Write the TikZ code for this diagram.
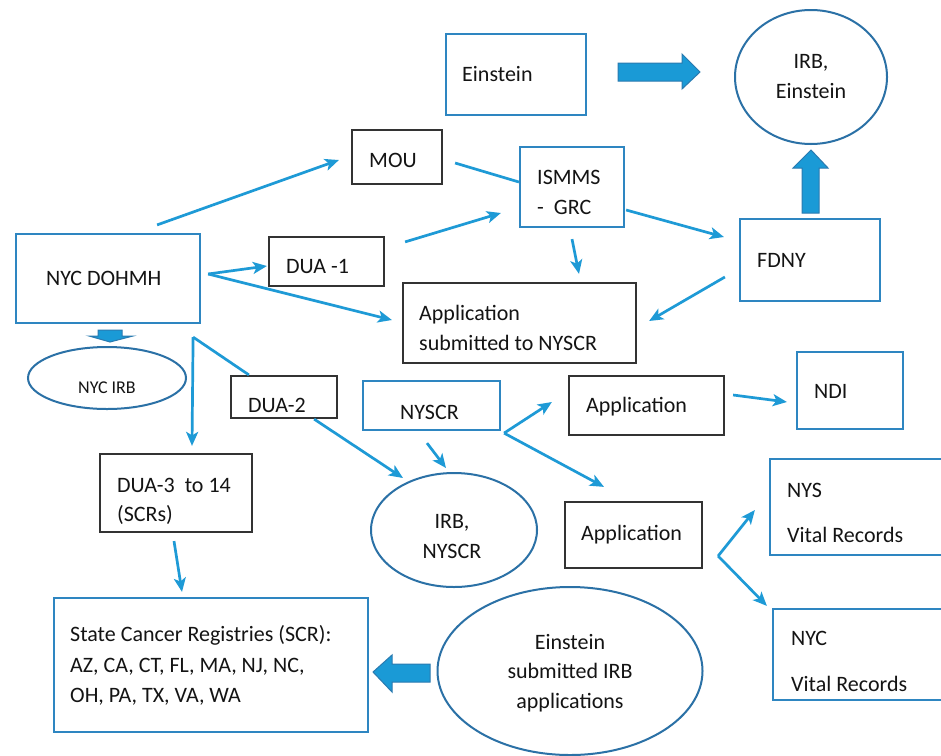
\documentclass[tikz,border=0pt]{standalone}
\usepackage{fontspec}
\setmainfont{Carlito}
\usetikzlibrary{arrows.meta,calc,shapes.geometric}
\definecolor{connblue}{HTML}{1E9AD6}
\definecolor{boxblue}{HTML}{2E86C1}
\definecolor{ovalblue}{HTML}{2B71A6}
\definecolor{boxblack}{HTML}{333333}
\definecolor{txtblack}{HTML}{141414}
\definecolor{blockfill}{HTML}{1A9AD6}
\definecolor{blockedge}{HTML}{2A7AB0}
\begin{document}
\begin{tikzpicture}[x=1pt,y=-1pt,
  bluebox/.style={draw=boxblue,line width=2.2pt,rectangle,inner sep=0pt},
  blackbox/.style={draw=boxblack,line width=2.2pt,rectangle,inner sep=0pt},
  oval/.style={draw=ovalblue,ellipse,line width=2pt,inner sep=0pt},
  txt/.style={anchor=base west,inner sep=0pt,font=\fontsize{22}{26}\selectfont,text=txtblack},
  ctxt/.style={anchor=base,inner sep=0pt,font=\fontsize{22}{26}\selectfont,text=txtblack},
  arr/.style={draw=connblue,line width=2.7pt,-{Stealth[length=14pt,width=12pt,inset=3.5pt]}},
  plainline/.style={draw=connblue,line width=2.7pt},
  blockarrow/.style={fill=blockfill,draw=blockedge,line width=1pt,line join=miter}]
\useasboundingbox (0,0) rectangle (941,755);
\fill[white] (0,0) rectangle (941,755);
\clip (0,0) rectangle (941,755);

% ---- boxes ----
\node[bluebox,minimum width=140pt,minimum height=81pt] (einstein) at (516,74.5) {};
\node[oval,minimum width=152pt,minimum height=134pt] (irbE) at (811,77) {};
\node[blackbox,minimum width=90pt,minimum height=54pt] (mou) at (397,157) {};
\node[bluebox,minimum width=104pt,minimum height=80pt] (ismms) at (572,187) {};
\node[bluebox,minimum width=140pt,minimum height=82pt] (fdny) at (810,260) {};
\node[bluebox,minimum width=184pt,minimum height=89pt] (dohmh) at (108,278.5) {};
\node[blackbox,minimum width=115pt,minimum height=49pt] (dua1) at (326.5,261.5) {};
\node[blackbox,minimum width=233pt,minimum height=80pt] (appN) at (519.5,323) {};
\node[oval,minimum width=158pt,minimum height=62pt] (nycirb) at (107,378) {};
\node[blackbox,minimum width=106pt,minimum height=42pt] (dua2) at (284,397) {};
\node[bluebox,minimum width=137pt,minimum height=49pt] (nyscr) at (431.5,405.5) {};
\node[blackbox,minimum width=152pt,minimum height=78pt] (dua3) at (176,493) {};
\node[oval,minimum width=166pt,minimum height=114pt] (irbN) at (454,530) {};
\node[bluebox,minimum width=314pt,minimum height=134pt] (scr) at (211,665) {};
\node[oval,minimum width=265pt,minimum height=168pt] (einsub) at (570,671) {};
\node[blackbox,minimum width=155pt,minimum height=59pt] (app1) at (646.5,405.5) {};
\node[bluebox,minimum width=106pt,minimum height=77pt] (ndi) at (850,390.5) {};
\node[blackbox,minimum width=137pt,minimum height=66pt] (app2) at (633.5,535) {};
\node[bluebox,minimum width=230pt,minimum height=96pt] (nys) at (885,507) {};
\node[bluebox,minimum width=227pt,minimum height=91pt] (nyc) at (886.5,654.5) {};

% ---- texts ----
\node[txt] (tEin) at (462,81) {Einstein};
\node[ctxt] (tIrbE1) at (811,68) {IRB,};
\node[ctxt] (tIrbE2) at (811,98) {Einstein};
\node[txt] (tMou) at (369,167) {MOU};
\node[txt] (tIs1) at (537,184) {ISMMS};
\node[txt] (tIs2) at (537,214) {-\ \ GRC};
\node[txt] (tFd) at (757,267) {FDNY};
\node[txt] (tDo) at (46,285) {NYC DOHMH};
\node[txt] (tD1) at (286,273) {DUA -1};
\node[txt] (tAn1) at (419,320) {Application};
\node[txt] (tAn2) at (419,350) {submitted to NYSCR};
\node[anchor=base,inner sep=0pt,font=\fontsize{18}{22}\selectfont,text=txtblack] (tNi) at (107,393) {NYC IRB};
\node[txt] (tD2) at (248,412) {DUA-2};
\node[txt] (tNy) at (400,419) {NYSCR};
\node[txt] (tD31) at (117,492) {DUA-3\ \ to 14};
\node[txt] (tD32) at (117,521) {(SCRs)};
\node[ctxt] (tIrbN1) at (452,528) {IRB,};
\node[ctxt] (tIrbN2) at (452,558) {NYSCR};
\node[txt] (tS1) at (70,641) {State Cancer Registries (SCR):};
\node[txt] (tS2) at (70,672) {AZ, CA, CT, FL, MA, NJ, NC,};
\node[txt] (tS3) at (70,702) {OH, PA, TX, VA, WA};
\node[ctxt] (tE1) at (570,649) {Einstein};
\node[ctxt] (tE2) at (570,678) {submitted IRB};
\node[ctxt] (tE3) at (570,708) {applications};
\node[txt] (tA1) at (586,412) {Application};
\node[txt] (tNdi) at (814,398) {NDI};
\node[txt] (tA2) at (581,540) {Application};
\node[txt] (tNys1) at (787,497) {NYS};
\node[txt] (tNys2) at (787,542) {Vital Records};
\node[txt] (tNyc1) at (791,645) {NYC};
\node[txt] (tNyc2) at (791,691) {Vital Records};

% ---- connectors ----
\draw[arr] ($(dohmh.north east)+(-44,-8)$) -- ($(mou.west)+(-12,3)$);
\draw[arr] ($(dohmh.east)+(7,-4.5)$) -- ($(dua1.west)+(-1,4.5)$);
\draw[arr] ($(dohmh.east)+(7,-4.5)$) -- ($(appN.west)+(-10,-3)$);
\draw[plainline] ($(mou.east)+(12,6)$) -- ($(ismms.west)+(0,-5)$);
\draw[arr] ($(dua1.north east)+(20,6)$) -- ($(ismms.west)+(-18,26)$);
\draw[arr] ($(ismms.east)+(1,23)$) -- ($(fdny.west)+(-15,-23)$);
\draw[arr] ($(ismms.south)+(0,11)$) -- ($(appN.north)+(59.5,-8)$);
\draw[arr] ($(fdny.west)+(-14,17)$) -- ($(appN.east)+(12,-2)$);
\coordinate (split) at ($(dohmh.south east)+(-8,13)$);
\draw[plainline,line join=miter] ($(dua2.north west)+(19,0)$) -- (split);
\draw[arr] (split) -- ($(dua3.north)+(16,-7)$);
\draw[arr] ($(dua2.south east)+(-24,0)$) -- ($(irbN.center)+(-51,-52)$);
\draw[arr] ($(nyscr.south)+(-4.5,12)$) -- ($(irbN.north)+(-8,-4)$);
\draw[arr] ($(dua3.south)+(-2,8)$) -- ($(scr.north)+(-29,-5)$);
\coordinate (fork1) at ($(nyscr.south east)+(3,2)$);
\draw[arr] (fork1) -- ($(app1.west)+(-16,-3.5)$);
\draw[arr] (fork1) -- ($(app2.north)+(-29.5,-14)$);
\draw[arr] ($(app1.east)+(8,-10.5)$) -- ($(ndi.west)+(-9,11.5)$);
\coordinate (fork2) at ($(app2.east)+(15,21)$);
\draw[arr] (fork2) -- ($(nys.west)+(-14,3)$);
\draw[arr] (fork2) -- ($(nyc.north west)+(-5,-2)$);

% ---- block arrows ----
\draw[blockarrow] (618,63) -- (682,63) -- (682,54) -- (700,72) -- (682,89) -- (682,81) -- (618,81) -- cycle;
\draw[blockarrow] (802,213) -- (802,168) -- (793,168) -- (811,150) -- (828,168) -- (819,168) -- (819,213) -- cycle;
\draw[blockarrow] (98,330) -- (122,330) -- (122,336) -- (133,336) -- (110,342) -- (89,336) -- (98,336) -- cycle;
\draw[blockarrow] (430,664) -- (392,664) -- (392,655) -- (373,672) -- (392,692) -- (392,682) -- (430,682) -- cycle;
\end{tikzpicture}
\end{document}
